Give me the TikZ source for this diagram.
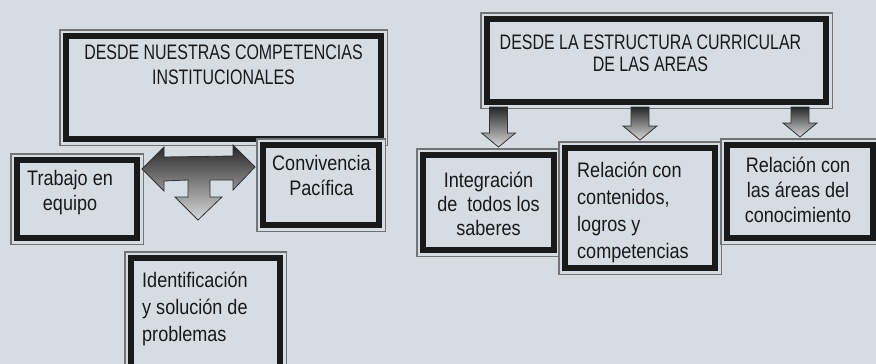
\documentclass[tikz,border=0pt]{standalone}
\usepackage{fontspec}
\setmainfont{Liberation Sans}[FakeStretch=0.86]
\newfontfamily\titlefont{Liberation Sans}[FakeStretch=0.76]
\usetikzlibrary{positioning,calc}
\definecolor{slidebg}{RGB}{214,221,226}
\tikzset{
    box/.style={rectangle, inner sep=0pt, outer sep=0pt, fill=slidebg,
        draw=black!90, line width=6pt,
        preaction={draw=black!55, line width=14pt},
        preaction={draw=slidebg, line width=11pt}},
    title/.style={inner sep=0pt, align=center, text=black!90,
        font=\titlefont\fontsize{21}{25}\selectfont},
    body/.style={inner sep=0pt, align=center, text=black!90,
        font=\fontsize{21}{25}\selectfont},
    blockarr/.style={draw=black!80, line width=0.8pt,
        top color=black!85, bottom color=black!15}
}

\begin{document}
\begin{tikzpicture}[x=1pt,y=-1pt]
    \useasboundingbox (0,0) rectangle (876,364);
    \fill[slidebg] (0,0) rectangle (876,364);

    % left block
    \node[box, minimum width=315, minimum height=103] (compInst) at (223.5,87.5) {};
    \node[box, minimum width=120, minimum height=78] (trabajo) at (77,199) {};
    \node[box, minimum width=116, minimum height=80] (convivencia) at (321,185) {};
    \node[box, minimum width=149, minimum height=122] (problemas) at (205.5,319) {};

    \node[title, below=9pt of compInst.north] (compInst-t)
        {DESDE NUESTRAS COMPETENCIAS\\INSTITUCIONALES};
    \node[body, below right=10pt and 10pt of trabajo.north west] (trabajo-t)
        {Trabajo en\\equipo};
    \node[body, below right=10pt and 9pt of convivencia.north west] (convivencia-t)
        {Convivencia\\Pacífica};
    \node[body, align=left, font=\fontsize{21}{27}\selectfont,
        below right=14pt and 11pt of problemas.north west] (problemas-t)
        {Identificación\\y solución de\\problemas};

    \draw[blockarr] (142,169) -- (164,147) -- (164,157) -- (233,156) -- (233,145)
        -- (255,167) -- (233,190) -- (233,180) -- (210,180) -- (210,197) -- (222,197)
        -- (198,220) -- (175,197) -- (188,197) -- (188,180) -- (164,181) -- (164,191)
        -- cycle;

    % right block
    \node[box, minimum width=339, minimum height=83] (areas) at (656.5,60.5) {};
    \node[box, minimum width=131, minimum height=95] (integra) at (488.5,202.5) {};
    \node[box, minimum width=150, minimum height=120] (relcont) at (640,208) {};
    \node[box, minimum width=146, minimum height=93] (relarea) at (800,191.5) {};

    \node[title, font=\titlefont\fontsize{21}{22}\selectfont,
        below=16pt of areas.north, xshift=-6pt] (areas-t)
        {DESDE LA ESTRUCTURA CURRICULAR\\DE LAS AREAS};
    \node[body, font=\fontsize{21}{24}\selectfont, below=17pt of integra.north] (integra-t)
        {Integración\\de\ \ todos los\\saberes};
    \node[body, align=left, font=\fontsize{21}{27}\selectfont,
        below right=14pt and 12pt of relcont.north west] (relcont-t)
        {Relación con\\contenidos,\\logros y\\competencias};
    \node[body, below=12pt of relarea.north, xshift=-2pt] (relarea-t)
        {Relación con\\las áreas del\\conocimiento};

    \foreach \nd/\dx in {integra/10, relcont/0, relarea/0}
        \path[blockarr] let \p1=(areas.south), \p2=($(\nd.north)+(\dx,0)$) in
            (\x2-9pt,\y1-5pt) -- (\x2+9pt,\y1-5pt) -- (\x2+9pt,\y2+22pt)
            -- (\x2+17pt,\y2+22pt) -- (\x2,\y2+8pt) -- (\x2-17pt,\y2+22pt)
            -- (\x2-9pt,\y2+22pt) -- cycle;
\end{tikzpicture}
\end{document}
